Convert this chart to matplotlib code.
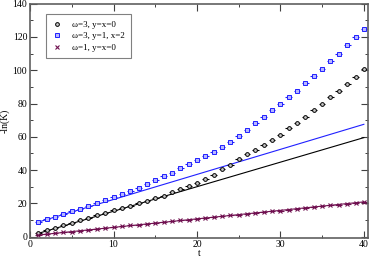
import numpy as np
import matplotlib
matplotlib.use("Agg")
import matplotlib.pyplot as plt
from matplotlib.ticker import MultipleLocator

# data
t = list(range(1, 41))
black_pts = [2.2, 3.8, 5.4, 6.9, 8.4, 9.9, 11.4, 12.9, 14.5, 16.2,
             17.2, 18.6, 20.0, 21.6, 23.2, 24.6, 27.0, 28.8, 30.6, 32.4,
             34.4, 37.0, 40.8, 43.3, 46.6, 49.6, 52.0, 55.0, 58.0, 61.3,
             65.3, 68.3, 72.0, 76.0, 80.0, 84.0, 87.5, 91.7, 96.0, 100.5]
blue_pts = [8.8, 10.4, 12.0, 13.6, 15.2, 16.8, 18.5, 20.1, 21.8, 23.6,
            25.6, 27.4, 29.4, 31.6, 33.8, 36.4, 38.4, 41.4, 43.6, 46.0,
            48.4, 50.8, 53.8, 57.0, 60.3, 64.0, 68.0, 72.0, 76.0, 79.7,
            84.0, 87.7, 92.3, 96.5, 101.0, 105.7, 110.0, 115.3, 120.0, 125.0]
maroon_pts = [1.0, 1.5, 2.0, 2.6, 3.1, 3.6, 4.2, 4.8, 5.3, 5.8,
              6.3, 6.8, 7.3, 7.8, 8.3, 8.8, 9.3, 9.8, 10.3, 10.8,
              11.3, 11.8, 12.3, 12.8, 13.3, 13.7, 14.2, 14.7, 15.2, 15.7,
              16.2, 16.8, 17.3, 17.8, 18.3, 18.8, 19.3, 19.8, 20.3, 20.9]

# straight reference lines (end points)
line_t = [1, 40]
black_line = [2.0, 59.5]
blue_line = [8.8, 67.5]
maroon_line = [1.0, 20.9]

labels = ["\u03c9=3, y=x=0", "\u03c9=3, y=1, x=2", "\u03c9=1, y=x=0"]

BLUE = "#2020ff"
MAROON = "#6f0f4f"

plt.rcParams['font.family'] = ['Liberation Serif', 'DejaVu Serif']

fig = plt.figure(figsize=(3.71, 2.59), dpi=100)
ax = fig.add_axes([0.081, 0.083, 0.911, 0.903])

ax.plot(line_t, black_line, color="black", lw=0.8)
ax.plot(line_t, blue_line, color=BLUE, lw=0.8)
ax.plot(line_t, maroon_line, color=MAROON, lw=0.8)

# error bars (no legend entry)
ax.errorbar(t, black_pts, xerr=0.4, fmt="none", ecolor="black",
            elinewidth=0.8, capsize=0)
ax.errorbar(t, blue_pts, xerr=0.4, fmt="none", ecolor=BLUE,
            elinewidth=0.8, capsize=0)
ax.errorbar(t, maroon_pts, xerr=0.4, fmt="none", ecolor=MAROON,
            elinewidth=0.8, capsize=0)

# markers
ax.plot(t, black_pts, "o", ms=2.7, mfc="#c8c8c8", mec="black", mew=0.7,
        label=labels[0])
ax.plot(t, blue_pts, "s", ms=2.6, mfc="#b8b8ff", mec=BLUE, mew=0.7,
        label=labels[1])
ax.plot(t, maroon_pts, "x", ms=2.6, mec=MAROON, mew=0.8, label=labels[2])

ax.set_xlim(0, 40.5)
ax.set_ylim(-0.5, 140)
ax.xaxis.set_major_locator(MultipleLocator(10))
ax.xaxis.set_minor_locator(MultipleLocator(5))
ax.yaxis.set_major_locator(MultipleLocator(20))
ax.yaxis.set_minor_locator(MultipleLocator(10))
ax.tick_params(which="both", direction="in", top=True, right=True,
               labelsize=7, color="#404040", pad=2)
ax.tick_params(which="major", length=5, width=0.8)
ax.tick_params(which="minor", length=2.5, width=0.7)
for s in ax.spines.values():
    s.set_color("#606060")
    s.set_linewidth(1.2)

ax.set_xlabel("t", fontsize=7, labelpad=0)
ax.set_ylabel("-ln(K)", fontsize=7, labelpad=2)

leg = ax.legend(loc="upper left", bbox_to_anchor=(0.047, 0.955), fontsize=6.5,
                frameon=True, fancybox=False, handlelength=1.0,
                handletextpad=1.2, borderpad=0.7, labelspacing=0.35,
                borderaxespad=0, markerscale=1.0)
leg.get_frame().set_edgecolor("#606060")
leg.get_frame().set_linewidth(0.8)

fig.savefig("out.png", dpi=100)
